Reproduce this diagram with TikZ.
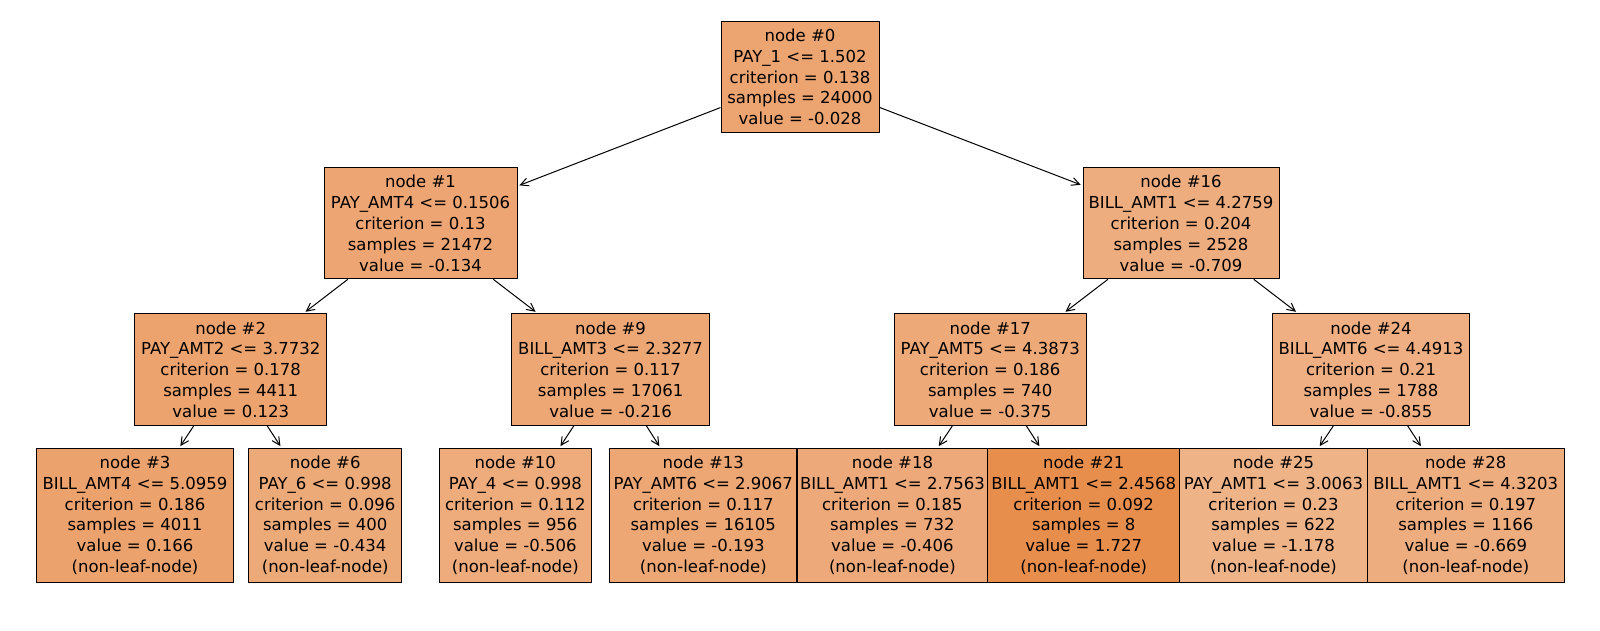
\documentclass[tikz,border=0pt]{standalone}
\usepackage{fontspec}
\setmainfont{DejaVu Sans}
\usetikzlibrary{arrows.meta}
\definecolor{base}{RGB}{229,129,57}
\tikzset{
  tnode/.style={draw=black, line width=1pt, inner sep=0pt, align=center,
    font=\fontsize{16.5}{20.8}\selectfont, text=black},
  edge/.style={-{Straight Barb[length=8pt,width=8pt]}, line width=1pt, black, shorten >=2pt}
}
\begin{document}
\begin{tikzpicture}[x=1pt,y=-1pt]
\useasboundingbox (0,0) rectangle (1600,630);
% level 0
\node[tnode, fill=base!71.8!white, minimum width=158pt, minimum height=111pt] (n0) at (800,77)
  {node \#0\\PAY\_1 <= 1.502\\criterion = 0.138\\samples = 24000\\value = -0.028};
% level 1
\node[tnode, fill=base!70.7!white, minimum width=193pt, minimum height=111pt] (n1) at (420.5,223.3)
  {node \#1\\PAY\_AMT4 <= 0.1506\\criterion = 0.13\\samples = 21472\\value = -0.134};
\node[tnode, fill=base!64.8!white, minimum width=196pt, minimum height=111pt] (n16) at (1181,223.3)
  {node \#16\\BILL\_AMT1 <= 4.2759\\criterion = 0.204\\samples = 2528\\value = -0.709};
% level 2
\node[tnode, fill=base!73.4!white, minimum width=192pt, minimum height=112pt] (n2) at (230.7,369.5)
  {node \#2\\PAY\_AMT2 <= 3.7732\\criterion = 0.178\\samples = 4411\\value = 0.123};
\node[tnode, fill=base!69.9!white, minimum width=198pt, minimum height=112pt] (n9) at (610.6,369.5)
  {node \#9\\BILL\_AMT3 <= 2.3277\\criterion = 0.117\\samples = 17061\\value = -0.216};
\node[tnode, fill=base!68.2!white, minimum width=192pt, minimum height=112pt] (n17) at (990.2,369.5)
  {node \#17\\PAY\_AMT5 <= 4.3873\\criterion = 0.186\\samples = 740\\value = -0.375};
\node[tnode, fill=base!63.3!white, minimum width=197pt, minimum height=112pt] (n24) at (1371,369.5)
  {node \#24\\BILL\_AMT6 <= 4.4913\\criterion = 0.21\\samples = 1788\\value = -0.855};
% level 3
\node[tnode, fill=base!73.8!white, minimum width=197.5pt, minimum height=134pt] (n3) at (135,515.3)
  {node \#3\\BILL\_AMT4 <= 5.0959\\criterion = 0.186\\samples = 4011\\value = 0.166\\(non-leaf-node)};
\node[tnode, fill=base!67.6!white, minimum width=152.5pt, minimum height=134pt] (n6) at (325.2,515.3)
  {node \#6\\PAY\_6 <= 0.998\\criterion = 0.096\\samples = 400\\value = -0.434\\(non-leaf-node)};
\node[tnode, fill=base!66.9!white, minimum width=152pt, minimum height=134pt] (n10) at (515.3,515.3)
  {node \#10\\PAY\_4 <= 0.998\\criterion = 0.112\\samples = 956\\value = -0.506\\(non-leaf-node)};
\node[tnode, fill=base!70.1!white, minimum width=187.3pt, minimum height=134pt] (n13) at (703.3,515.3)
  {node \#13\\PAY\_AMT6 <= 2.9067\\criterion = 0.117\\samples = 16105\\value = -0.193\\(non-leaf-node)};
\node[tnode, fill=base!67.9!white, minimum width=190.8pt, minimum height=134pt] (n18) at (892.4,515.3)
  {node \#18\\BILL\_AMT1 <= 2.7563\\criterion = 0.185\\samples = 732\\value = -0.406\\(non-leaf-node)};
\node[tnode, fill=base!89.9!white, minimum width=191.8pt, minimum height=134pt] (n21) at (1083.7,515.3)
  {node \#21\\BILL\_AMT1 <= 2.4568\\criterion = 0.092\\samples = 8\\value = 1.727\\(non-leaf-node)};
\node[tnode, fill=base!60!white, minimum width=187.7pt, minimum height=134pt] (n25) at (1273.5,515.3)
  {node \#25\\PAY\_AMT1 <= 3.0063\\criterion = 0.23\\samples = 622\\value = -1.178\\(non-leaf-node)};
\node[tnode, fill=base!65.2!white, minimum width=197pt, minimum height=134pt] (n28) at (1465.8,515.3)
  {node \#28\\BILL\_AMT1 <= 4.3203\\criterion = 0.197\\samples = 1166\\value = -0.669\\(non-leaf-node)};
% edges
\draw[edge] (n0) -- (n1);
\draw[edge] (n0) -- (n16);
\draw[edge] (n1) -- (n2);
\draw[edge] (n1) -- (n9);
\draw[edge] (n16) -- (n17);
\draw[edge] (n16) -- (n24);
\draw[edge] (n2) -- (n3);
\draw[edge] (n2) -- (n6);
\draw[edge] (n9) -- (n10);
\draw[edge] (n9) -- (n13);
\draw[edge] (n17) -- (n18);
\draw[edge] (n17) -- (n21);
\draw[edge] (n24) -- (n25);
\draw[edge] (n24) -- (n28);
\end{tikzpicture}
\end{document}
